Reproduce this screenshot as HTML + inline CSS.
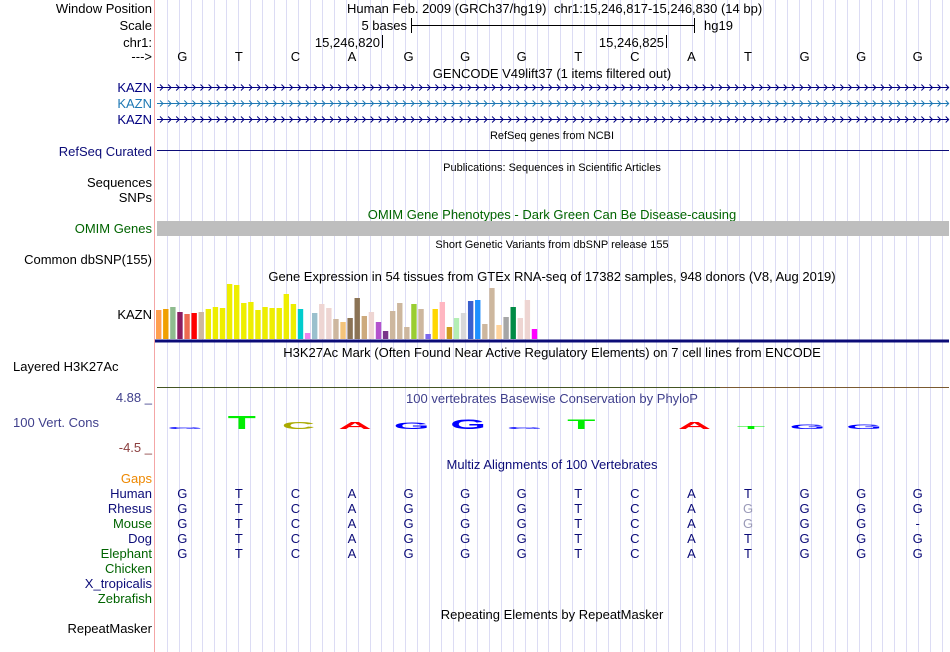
<!DOCTYPE html>
<html><head><meta charset="utf-8"><style>
body{margin:0;background:#fff}
svg{display:block;font-family:"Liberation Sans",sans-serif}
</style></head><body>
<svg id="s" width="950" height="652">
<g id="grid"></g>
<line x1="154.5" y1="0" x2="154.5" y2="652" stroke="#f4a6a6"/>
<g font-size="13" text-anchor="end">
<text x="152" y="13" fill="#000">Window Position</text>
<text x="152" y="30" fill="#000">Scale</text>
<text x="152" y="47" fill="#000">chr1:</text>
<text x="152" y="61" fill="#000">---&gt;</text>
<text x="152" y="92" fill="#000080">KAZN</text>
<text x="152" y="108" fill="#1e78b4">KAZN</text>
<text x="152" y="124" fill="#000080">KAZN</text>
<text x="152" y="156" fill="#0c0c78">RefSeq Curated</text>
<text x="152" y="187" fill="#000">Sequences</text>
<text x="152" y="202" fill="#000">SNPs</text>
<text x="152" y="233" fill="#006400">OMIM Genes</text>
<text x="152" y="264" fill="#000">Common dbSNP(155)</text>
<text x="152" y="319" fill="#000">KAZN</text>
<text x="152" y="498" fill="#0c0c78">Human</text>
<text x="152" y="513" fill="#0c0c78">Rhesus</text>
<text x="152" y="528" fill="#006400">Mouse</text>
<text x="152" y="543" fill="#0c0c78">Dog</text>
<text x="152" y="558" fill="#006400">Elephant</text>
<text x="152" y="573" fill="#006400">Chicken</text>
<text x="152" y="588" fill="#0c0c78">X_tropicalis</text>
<text x="152" y="603" fill="#006400">Zebrafish</text>
<text x="152" y="633" fill="#000">RepeatMasker</text>
<text x="152" y="483" fill="#ee8800">Gaps</text>
<text x="152" y="402" fill="#40408c">4.88 _</text>
<text x="152" y="452" fill="#8c4040">-4.5 _</text>
</g>
<text x="13" y="371" font-size="13">Layered H3K27Ac</text>
<text x="13" y="427" font-size="13" fill="#40408c">100 Vert. Cons</text>

<text x="347" y="13" font-size="13">Human Feb. 2009 (GRCh37/hg19)</text>
<text x="554" y="13" font-size="13">chr1:15,246,817-15,246,830 (14 bp)</text>
<text x="407" y="30" font-size="13" text-anchor="end">5 bases</text>
<g stroke="#000"><line x1="411.5" y1="18" x2="411.5" y2="33"/><line x1="411" y1="25.5" x2="694" y2="25.5"/><line x1="694.5" y1="18" x2="694.5" y2="33"/></g>
<text x="704" y="30" font-size="13">hg19</text>
<text x="380" y="47" font-size="13" text-anchor="end">15,246,820</text>
<line x1="382.5" y1="35" x2="382.5" y2="48" stroke="#000"/>
<text x="664" y="47" font-size="13" text-anchor="end">15,246,825</text>
<line x1="666.5" y1="35" x2="666.5" y2="48" stroke="#000"/>
<g id="bases" font-size="13" text-anchor="middle"></g>

<text x="552" y="78" font-size="13" text-anchor="middle">GENCODE V49lift37 (1 items filtered out)</text>
<g id="genes"></g>
<text x="552" y="139" font-size="11" text-anchor="middle">RefSeq genes from NCBI</text>
<line x1="157" y1="150.5" x2="949" y2="150.5" stroke="#0c0c78"/>
<text x="552" y="171" font-size="11" text-anchor="middle">Publications: Sequences in Scientific Articles</text>
<text x="552" y="219" font-size="13" fill="#006400" text-anchor="middle">OMIM Gene Phenotypes - Dark Green Can Be Disease-causing</text>
<rect x="157" y="221" width="792" height="15" fill="#bebebe"/>
<text x="552" y="248" font-size="11" text-anchor="middle">Short Genetic Variants from dbSNP release 155</text>
<text x="552" y="281" font-size="13" text-anchor="middle">Gene Expression in 54 tissues from GTEx RNA-seq of 17382 samples, 948 donors (V8, Aug 2019)</text>
<g id="gtex"></g>
<rect x="155" y="339.5" width="794" height="3" fill="#0c0c78"/>
<text x="552" y="357" font-size="13" text-anchor="middle">H3K27Ac Mark (Often Found Near Active Regulatory Elements) on 7 cell lines from ENCODE</text>
<line x1="157" y1="387.5" x2="949" y2="387.5" stroke="#445522"/>
<line x1="720" y1="387.5" x2="949" y2="387.5" stroke="#7a5a30"/>
<text x="552" y="403" font-size="13" fill="#40408c" text-anchor="middle">100 vertebrates Basewise Conservation by PhyloP</text>
<g id="phylop"></g>
<text x="552" y="469" font-size="13" fill="#0c0c78" text-anchor="middle">Multiz Alignments of 100 Vertebrates</text>
<g id="aln" font-size="13" text-anchor="middle"></g>
<text x="552" y="619" font-size="13" text-anchor="middle">Repeating Elements by RepeatMasker</text>
</svg>
<script>
const refBases = ["G","T","C","A","G","G","G","T","C","A","T","G","G","G"];
const gtexValues = [29,30,32,27,25,26,27,30,32,31,55,54,36,37,29,32,31,31,45,35,30,6,26,35,31,20,17,21,41,23,27,17,8,28,36,12,35,30,5,30,37,12,21,26,38,39,15,51,14,22,32,21,39,10];
const gtexColors = ["#ff9f4f","#f0a000","#8fbc8f","#8b1c62","#ee6a50","#ff0000","#cdb79e","#eeee00","#eeee00","#eeee00","#eeee00","#eeee00","#eeee00","#eeee00","#eeee00","#eeee00","#eeee00","#eeee00","#eeee00","#eeee00","#00cdcd","#ee82ee","#9ac0cd","#eed5d2","#eed5d2","#cdb79e","#f4c47a","#8b7355","#8b7355","#cdaa7d","#eed5d2","#b452cd","#7a378b","#cdb79e","#cdb79e","#cdb79e","#9acd32","#cdb79e","#7b68ee","#ffd700","#ffb6c1","#cd9b1d","#b4eeb4","#d9d9d9","#3a5fcd","#1e90ff","#cdb79e","#cdb79e","#ffd39b","#a6a6a6","#008b45","#eed5d2","#eed5d2","#ff00ff"];
const phylopScores = [0.3,1.8,1.0,1.0,0.9,1.3,0.3,1.3,0,1.0,0.4,0.6,0.6,0];
const alnRows = [
 ["G","T","C","A","G","G","G","T","C","A","T","G","G","G"],
 ["G","T","C","A","G","G","G","T","C","A","g","G","G","G"],
 ["G","T","C","A","G","G","G","T","C","A","g","G","G","-"],
 ["G","T","C","A","G","G","G","T","C","A","T","G","G","G"],
 ["G","T","C","A","G","G","G","T","C","A","T","G","G","G"]];
const NS="http://www.w3.org/2000/svg";
const x0=157, bw=792/14;
const baseX = i => x0 + bw*(i+0.5) - 3;
const gtexX = i => 156 + i*7.09;
const gtexY = v => 339 - v;
const phyY = v => v*7.5;
function mk(t,p,a){const e=document.createElementNS(NS,t);for(const k in a)e.setAttribute(k,a[k]);p.appendChild(e);return e;}
const grid=document.getElementById('grid');
for(let x=166.7;x<950;x+=11.93){const l=mk('line',grid,{x1:Math.round(x)+0.5,x2:Math.round(x)+0.5,y1:0,y2:652,stroke:'#dcdcf4'});

}
const bases=document.getElementById('bases');
refBases.forEach((b,i)=>{const t=mk('text',bases,{x:baseX(i),y:61});t.textContent=b;

});
const genes=document.getElementById('genes');
[[87.5,'#000080'],[103.5,'#1e78b4'],[119.5,'#000080']].forEach(([y,c])=>{
 const l=mk('line',genes,{x1:157,x2:949,y1:y,y2:y,stroke:c});
 
 
 let d='';for(let x=160;x<948;x+=8.1){d+=`M${x.toFixed(1)} ${y-3}l3 3l-3 3`;}
 const p=mk('path',genes,{d:d,stroke:c,fill:'none'});
 
 
});
const gtex=document.getElementById('gtex');
gtexValues.forEach((v,i)=>{const r=mk('rect',gtex,{x:gtexX(i),y:gtexY(v),width:5.4,height:v,fill:gtexColors[i]});

});
const ph=document.getElementById('phylop');
const pc={A:'#ff0000',C:'#aaaa00',G:'#0000ff',T:'#00ee00'};
phylopScores.forEach((s,i)=>{if(s<=0)return;const h=phyY(s);
 const t=mk('text',ph,{transform:`translate(${baseX(i)+3},429) scale(0.46,${(h/72).toFixed(3)})`,'font-size':100,'font-weight':'bold','text-anchor':'middle',fill:pc[refBases[i]]});
 t.textContent=refBases[i];
 
 });
const aln=document.getElementById('aln');
alnRows.forEach((row,r)=>row.forEach((b,i)=>{const low=b==='g';
 const t=mk('text',aln,{x:baseX(i),y:498+15*r,fill:low?'#9a9ab8':'#0c0c78'});t.textContent=low?'G':b;
 
 }));
</script>
</body></html>
